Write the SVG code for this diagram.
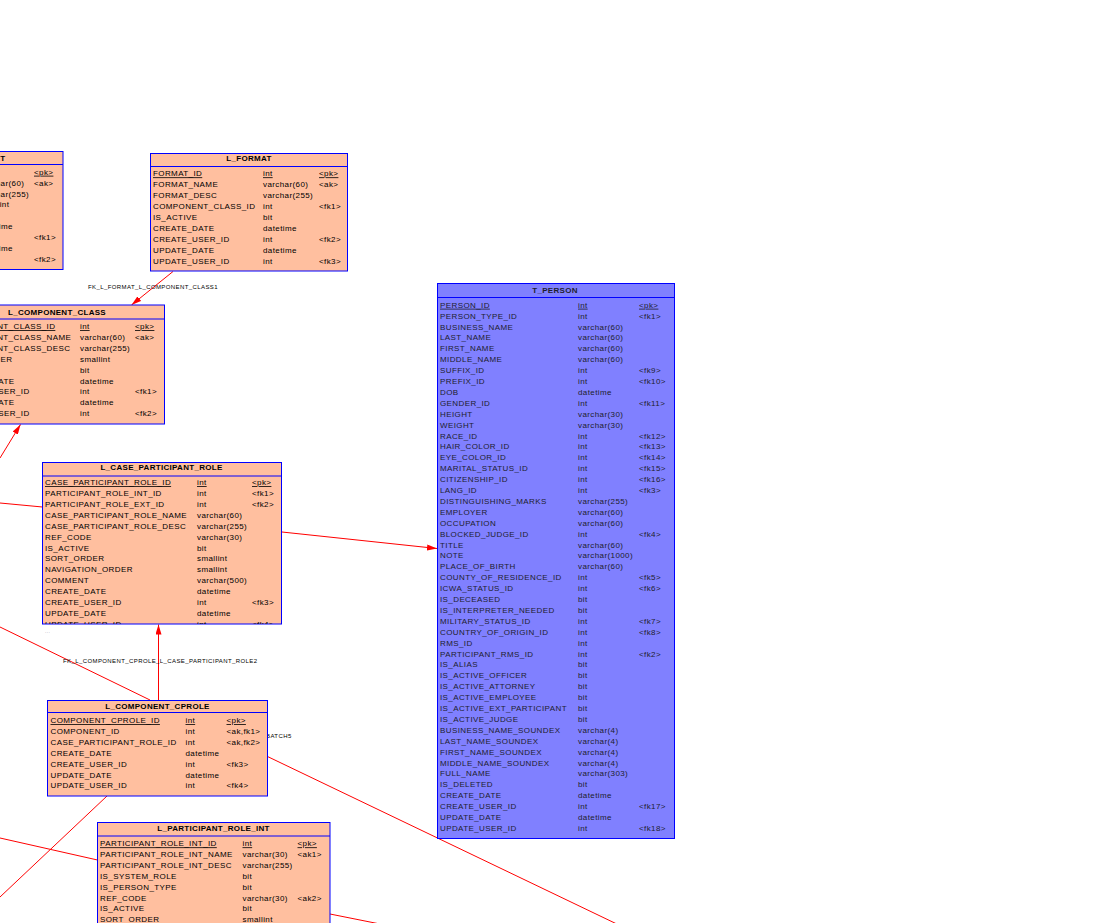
<svg xmlns="http://www.w3.org/2000/svg" width="1119" height="923" viewBox="0 0 1119 923">
<defs>
<style>
.tb{fill:#FFBF9F;stroke:#0000FF;stroke-width:1}
.tp{fill:#8080FF;stroke:#0000FF;stroke-width:1}
.sep{stroke:#0000FF;stroke-width:1}
text{font-family:"Liberation Sans",Arial,sans-serif;font-size:8px;letter-spacing:0.4px;fill:#000}
.h{font-weight:bold;text-anchor:middle;letter-spacing:0.3px}
.pk{text-decoration:underline}
.tpt{fill:#1e1e2e}
.lbl{font-size:6px;letter-spacing:0.4px}
.c{stroke:#FF0000;fill:none;stroke-width:1}
.dots{fill:#99a;font-size:5px}
</style>
<marker id="arr" viewBox="0 0 10 6" refX="10" refY="3" markerWidth="10" markerHeight="6" markerUnits="userSpaceOnUse" orient="auto"><path d="M0,0 L10,3 L0,6 z" fill="#FF0000"/></marker>
<clipPath id="clipCPR"><rect x="42.5" y="462.5" width="239" height="161.5"/></clipPath>
</defs>
<rect width="1119" height="923" fill="#FFFFFF"/>

<g id="connectors">
<line class="c" x1="173" y1="271.5" x2="131.5" y2="305" marker-end="url(#arr)"/>
<text class="lbl" x="88" y="289">FK_L_FORMAT_L_COMPONENT_CLASS1</text>
<line class="c" x1="0" y1="458" x2="20.5" y2="424.5" marker-end="url(#arr)"/>
<line class="c" x1="0" y1="503" x2="42.5" y2="507"/>
<line class="c" x1="282" y1="532" x2="437" y2="548.5" marker-end="url(#arr)"/>
<line class="c" x1="0" y1="627" x2="150" y2="700"/>
<line class="c" x1="158.5" y1="700.5" x2="158.5" y2="624.5" marker-end="url(#arr)"/>
<text class="lbl" x="63" y="663">FK_L_COMPONENT_CPROLE_L_CASE_PARTICIPANT_ROLE2</text>
<text class="lbl" x="266" y="738">BATCH5</text>
<line class="c" x1="267.5" y1="756.5" x2="621" y2="926"/>
<line class="c" x1="107" y1="796" x2="0" y2="897"/>
<line class="c" x1="0" y1="838" x2="97.5" y2="860"/>
<line class="c" x1="330" y1="914" x2="380" y2="924"/>
</g>

<g id="L_COMPONENT">
<rect class="tb" x="-103" y="151.5" width="166" height="118"/>
<text class="h" x="5.5" y="161" style="text-anchor:end">L_COMPONENT</text>
<line class="sep" x1="-103" y1="164.5" x2="63" y2="164.5"/>
<text class="pk" x="34" y="174.7">&lt;pk&gt;</text>
<text x="-21" y="185.6">varchar(60)</text><text x="34" y="185.6">&lt;ak&gt;</text>
<text x="-21" y="196.5">varchar(255)</text>
<text x="-21" y="207.4">smallint</text>
<text x="-21" y="229.2">datetime</text>
<text x="34" y="240.1">&lt;fk1&gt;</text>
<text x="-21" y="251">datetime</text>
<text x="34" y="261.9">&lt;fk2&gt;</text>
</g>

<g id="L_FORMAT">
<rect class="tb" x="150.5" y="153.5" width="197" height="117.5"/>
<text class="h" x="249" y="161.3">L_FORMAT</text>
<line class="sep" x1="150.5" y1="166.5" x2="347.5" y2="166.5"/>
<text class="pk" x="153" y="176.3">FORMAT_ID</text><text class="pk" x="263" y="176.3">int</text><text class="pk" x="319" y="176.3">&lt;pk&gt;</text>
<text x="153" y="187.2">FORMAT_NAME</text><text x="263" y="187.2">varchar(60)</text><text x="319" y="187.2">&lt;ak&gt;</text>
<text x="153" y="198.1">FORMAT_DESC</text><text x="263" y="198.1">varchar(255)</text>
<text x="153" y="209">COMPONENT_CLASS_ID</text><text x="263" y="209">int</text><text x="319" y="209">&lt;fk1&gt;</text>
<text x="153" y="219.9">IS_ACTIVE</text><text x="263" y="219.9">bit</text>
<text x="153" y="230.8">CREATE_DATE</text><text x="263" y="230.8">datetime</text>
<text x="153" y="241.7">CREATE_USER_ID</text><text x="263" y="241.7">int</text><text x="319" y="241.7">&lt;fk2&gt;</text>
<text x="153" y="252.6">UPDATE_DATE</text><text x="263" y="252.6">datetime</text>
<text x="153" y="263.5">UPDATE_USER_ID</text><text x="263" y="263.5">int</text><text x="319" y="263.5">&lt;fk3&gt;</text>
</g>

<g id="L_COMPONENT_CLASS">
<rect class="tb" x="-50" y="305" width="214.5" height="119"/>
<text class="h" x="57" y="315.3">L_COMPONENT_CLASS</text>
<line class="sep" x1="-50" y1="319" x2="164.5" y2="319"/>
<text class="pk" x="-47" y="329">COMPONENT_CLASS_ID</text><text class="pk" x="80" y="329">int</text><text class="pk" x="135" y="329">&lt;pk&gt;</text>
<text x="-47" y="339.9">COMPONENT_CLASS_NAME</text><text x="80" y="339.9">varchar(60)</text><text x="135" y="339.9">&lt;ak&gt;</text>
<text x="-47" y="350.8">COMPONENT_CLASS_DESC</text><text x="80" y="350.8">varchar(255)</text>
<text x="-47" y="361.7">SORT_ORDER</text><text x="80" y="361.7">smallint</text>
<text x="-47" y="372.6">IS_ACTIVE</text><text x="80" y="372.6">bit</text>
<text x="-47" y="383.5">CREATE_DATE</text><text x="80" y="383.5">datetime</text>
<text x="-47" y="394.4">CREATE_USER_ID</text><text x="80" y="394.4">int</text><text x="135" y="394.4">&lt;fk1&gt;</text>
<text x="-47" y="405.3">UPDATE_DATE</text><text x="80" y="405.3">datetime</text>
<text x="-47" y="416.2">UPDATE_USER_ID</text><text x="80" y="416.2">int</text><text x="135" y="416.2">&lt;fk2&gt;</text>
</g>

<g id="L_CASE_PARTICIPANT_ROLE">
<rect class="tb" x="42.5" y="462.5" width="239" height="161.5"/>
<text class="h" x="161.5" y="470">L_CASE_PARTICIPANT_ROLE</text>
<line class="sep" x1="42.5" y1="476" x2="281.5" y2="476"/>
<g clip-path="url(#clipCPR)">
<text class="pk" x="45" y="485">CASE_PARTICIPANT_ROLE_ID</text><text class="pk" x="197" y="485">int</text><text class="pk" x="252" y="485">&lt;pk&gt;</text>
<text x="45" y="495.9">PARTICIPANT_ROLE_INT_ID</text><text x="197" y="495.9">int</text><text x="252" y="495.9">&lt;fk1&gt;</text>
<text x="45" y="506.8">PARTICIPANT_ROLE_EXT_ID</text><text x="197" y="506.8">int</text><text x="252" y="506.8">&lt;fk2&gt;</text>
<text x="45" y="517.8">CASE_PARTICIPANT_ROLE_NAME</text><text x="197" y="517.8">varchar(60)</text>
<text x="45" y="528.7">CASE_PARTICIPANT_ROLE_DESC</text><text x="197" y="528.7">varchar(255)</text>
<text x="45" y="539.6">REF_CODE</text><text x="197" y="539.6">varchar(30)</text>
<text x="45" y="550.5">IS_ACTIVE</text><text x="197" y="550.5">bit</text>
<text x="45" y="561.4">SORT_ORDER</text><text x="197" y="561.4">smallint</text>
<text x="45" y="572.4">NAVIGATION_ORDER</text><text x="197" y="572.4">smallint</text>
<text x="45" y="583.3">COMMENT</text><text x="197" y="583.3">varchar(500)</text>
<text x="45" y="594.2">CREATE_DATE</text><text x="197" y="594.2">datetime</text>
<text x="45" y="605.1">CREATE_USER_ID</text><text x="197" y="605.1">int</text><text x="252" y="605.1">&lt;fk3&gt;</text>
<text x="45" y="616">UPDATE_DATE</text><text x="197" y="616">datetime</text>
<text x="45" y="627">UPDATE_USER_ID</text><text x="197" y="627">int</text><text x="252" y="627">&lt;fk4&gt;</text>
</g>
<text class="dots" x="45" y="632.5">...</text>
</g>

<g id="L_COMPONENT_CPROLE">
<rect class="tb" x="47.5" y="700.5" width="220" height="95.5"/>
<text class="h" x="157.5" y="709">L_COMPONENT_CPROLE</text>
<line class="sep" x1="47.5" y1="712.5" x2="267.5" y2="712.5"/>
<text class="pk" x="50.5" y="723">COMPONENT_CPROLE_ID</text><text class="pk" x="185.5" y="723">int</text><text class="pk" x="226.5" y="723">&lt;pk&gt;</text>
<text x="50.5" y="733.9">COMPONENT_ID</text><text x="185.5" y="733.9">int</text><text x="226.5" y="733.9">&lt;ak,fk1&gt;</text>
<text x="50.5" y="744.8">CASE_PARTICIPANT_ROLE_ID</text><text x="185.5" y="744.8">int</text><text x="226.5" y="744.8">&lt;ak,fk2&gt;</text>
<text x="50.5" y="755.7">CREATE_DATE</text><text x="185.5" y="755.7">datetime</text>
<text x="50.5" y="766.6">CREATE_USER_ID</text><text x="185.5" y="766.6">int</text><text x="226.5" y="766.6">&lt;fk3&gt;</text>
<text x="50.5" y="777.5">UPDATE_DATE</text><text x="185.5" y="777.5">datetime</text>
<text x="50.5" y="788.4">UPDATE_USER_ID</text><text x="185.5" y="788.4">int</text><text x="226.5" y="788.4">&lt;fk4&gt;</text>
</g>

<g id="L_PARTICIPANT_ROLE_INT">
<rect class="tb" x="97.5" y="822.5" width="232.5" height="120"/>
<text class="h" x="213.5" y="831.3">L_PARTICIPANT_ROLE_INT</text>
<line class="sep" x1="97.5" y1="836" x2="330" y2="836"/>
<text class="pk" x="100" y="846.3">PARTICIPANT_ROLE_INT_ID</text><text class="pk" x="242.5" y="846.3">int</text><text class="pk" x="297.5" y="846.3">&lt;pk&gt;</text>
<text x="100" y="857.1">PARTICIPANT_ROLE_INT_NAME</text><text x="242.5" y="857.1">varchar(30)</text><text x="297.5" y="857.1">&lt;ak1&gt;</text>
<text x="100" y="868">PARTICIPANT_ROLE_INT_DESC</text><text x="242.5" y="868">varchar(255)</text>
<text x="100" y="878.8">IS_SYSTEM_ROLE</text><text x="242.5" y="878.8">bit</text>
<text x="100" y="889.7">IS_PERSON_TYPE</text><text x="242.5" y="889.7">bit</text>
<text x="100" y="900.5">REF_CODE</text><text x="242.5" y="900.5">varchar(30)</text><text x="297.5" y="900.5">&lt;ak2&gt;</text>
<text x="100" y="911.4">IS_ACTIVE</text><text x="242.5" y="911.4">bit</text>
<text x="100" y="922.2">SORT_ORDER</text><text x="242.5" y="922.2">smallint</text>
</g>

<g id="T_PERSON">
<rect class="tp" x="437.5" y="283.5" width="237" height="555"/>
<text class="h tpt" x="555" y="293">T_PERSON</text>
<line class="sep" x1="437.5" y1="297.5" x2="674.5" y2="297.5"/>
<g class="tpt">
<text class="pk tpt" x="440" y="307.7">PERSON_ID</text><text class="pk tpt" x="578" y="307.7">int</text><text class="pk tpt" x="639" y="307.7">&lt;pk&gt;</text>
<text class="tpt" x="440" y="318.6">PERSON_TYPE_ID</text><text class="tpt" x="578" y="318.6">int</text><text class="tpt" x="639" y="318.6">&lt;fk1&gt;</text>
<text class="tpt" x="440" y="329.5">BUSINESS_NAME</text><text class="tpt" x="578" y="329.5">varchar(60)</text>
<text class="tpt" x="440" y="340.4">LAST_NAME</text><text class="tpt" x="578" y="340.4">varchar(60)</text>
<text class="tpt" x="440" y="351.3">FIRST_NAME</text><text class="tpt" x="578" y="351.3">varchar(60)</text>
<text class="tpt" x="440" y="362.2">MIDDLE_NAME</text><text class="tpt" x="578" y="362.2">varchar(60)</text>
<text class="tpt" x="440" y="373.1">SUFFIX_ID</text><text class="tpt" x="578" y="373.1">int</text><text class="tpt" x="639" y="373.1">&lt;fk9&gt;</text>
<text class="tpt" x="440" y="384">PREFIX_ID</text><text class="tpt" x="578" y="384">int</text><text class="tpt" x="639" y="384">&lt;fk10&gt;</text>
<text class="tpt" x="440" y="394.9">DOB</text><text class="tpt" x="578" y="394.9">datetime</text>
<text class="tpt" x="440" y="405.8">GENDER_ID</text><text class="tpt" x="578" y="405.8">int</text><text class="tpt" x="639" y="405.8">&lt;fk11&gt;</text>
<text class="tpt" x="440" y="416.7">HEIGHT</text><text class="tpt" x="578" y="416.7">varchar(30)</text>
<text class="tpt" x="440" y="427.6">WEIGHT</text><text class="tpt" x="578" y="427.6">varchar(30)</text>
<text class="tpt" x="440" y="438.5">RACE_ID</text><text class="tpt" x="578" y="438.5">int</text><text class="tpt" x="639" y="438.5">&lt;fk12&gt;</text>
<text class="tpt" x="440" y="449.4">HAIR_COLOR_ID</text><text class="tpt" x="578" y="449.4">int</text><text class="tpt" x="639" y="449.4">&lt;fk13&gt;</text>
<text class="tpt" x="440" y="460.3">EYE_COLOR_ID</text><text class="tpt" x="578" y="460.3">int</text><text class="tpt" x="639" y="460.3">&lt;fk14&gt;</text>
<text class="tpt" x="440" y="471.2">MARITAL_STATUS_ID</text><text class="tpt" x="578" y="471.2">int</text><text class="tpt" x="639" y="471.2">&lt;fk15&gt;</text>
<text class="tpt" x="440" y="482.1">CITIZENSHIP_ID</text><text class="tpt" x="578" y="482.1">int</text><text class="tpt" x="639" y="482.1">&lt;fk16&gt;</text>
<text class="tpt" x="440" y="493">LANG_ID</text><text class="tpt" x="578" y="493">int</text><text class="tpt" x="639" y="493">&lt;fk3&gt;</text>
<text class="tpt" x="440" y="503.9">DISTINGUISHING_MARKS</text><text class="tpt" x="578" y="503.9">varchar(255)</text>
<text class="tpt" x="440" y="514.8">EMPLOYER</text><text class="tpt" x="578" y="514.8">varchar(60)</text>
<text class="tpt" x="440" y="525.7">OCCUPATION</text><text class="tpt" x="578" y="525.7">varchar(60)</text>
<text class="tpt" x="440" y="536.6">BLOCKED_JUDGE_ID</text><text class="tpt" x="578" y="536.6">int</text><text class="tpt" x="639" y="536.6">&lt;fk4&gt;</text>
<text class="tpt" x="440" y="547.5">TITLE</text><text class="tpt" x="578" y="547.5">varchar(60)</text>
<text class="tpt" x="440" y="558.4">NOTE</text><text class="tpt" x="578" y="558.4">varchar(1000)</text>
<text class="tpt" x="440" y="569.3">PLACE_OF_BIRTH</text><text class="tpt" x="578" y="569.3">varchar(60)</text>
<text class="tpt" x="440" y="580.2">COUNTY_OF_RESIDENCE_ID</text><text class="tpt" x="578" y="580.2">int</text><text class="tpt" x="639" y="580.2">&lt;fk5&gt;</text>
<text class="tpt" x="440" y="591.1">ICWA_STATUS_ID</text><text class="tpt" x="578" y="591.1">int</text><text class="tpt" x="639" y="591.1">&lt;fk6&gt;</text>
<text class="tpt" x="440" y="602">IS_DECEASED</text><text class="tpt" x="578" y="602">bit</text>
<text class="tpt" x="440" y="612.9">IS_INTERPRETER_NEEDED</text><text class="tpt" x="578" y="612.9">bit</text>
<text class="tpt" x="440" y="623.8">MILITARY_STATUS_ID</text><text class="tpt" x="578" y="623.8">int</text><text class="tpt" x="639" y="623.8">&lt;fk7&gt;</text>
<text class="tpt" x="440" y="634.7">COUNTRY_OF_ORIGIN_ID</text><text class="tpt" x="578" y="634.7">int</text><text class="tpt" x="639" y="634.7">&lt;fk8&gt;</text>
<text class="tpt" x="440" y="645.6">RMS_ID</text><text class="tpt" x="578" y="645.6">int</text>
<text class="tpt" x="440" y="656.5">PARTICIPANT_RMS_ID</text><text class="tpt" x="578" y="656.5">int</text><text class="tpt" x="639" y="656.5">&lt;fk2&gt;</text>
<text class="tpt" x="440" y="667.4">IS_ALIAS</text><text class="tpt" x="578" y="667.4">bit</text>
<text class="tpt" x="440" y="678.3">IS_ACTIVE_OFFICER</text><text class="tpt" x="578" y="678.3">bit</text>
<text class="tpt" x="440" y="689.2">IS_ACTIVE_ATTORNEY</text><text class="tpt" x="578" y="689.2">bit</text>
<text class="tpt" x="440" y="700.1">IS_ACTIVE_EMPLOYEE</text><text class="tpt" x="578" y="700.1">bit</text>
<text class="tpt" x="440" y="711">IS_ACTIVE_EXT_PARTICIPANT</text><text class="tpt" x="578" y="711">bit</text>
<text class="tpt" x="440" y="721.9">IS_ACTIVE_JUDGE</text><text class="tpt" x="578" y="721.9">bit</text>
<text class="tpt" x="440" y="732.8">BUSINESS_NAME_SOUNDEX</text><text class="tpt" x="578" y="732.8">varchar(4)</text>
<text class="tpt" x="440" y="743.7">LAST_NAME_SOUNDEX</text><text class="tpt" x="578" y="743.7">varchar(4)</text>
<text class="tpt" x="440" y="754.6">FIRST_NAME_SOUNDEX</text><text class="tpt" x="578" y="754.6">varchar(4)</text>
<text class="tpt" x="440" y="765.5">MIDDLE_NAME_SOUNDEX</text><text class="tpt" x="578" y="765.5">varchar(4)</text>
<text class="tpt" x="440" y="776.4">FULL_NAME</text><text class="tpt" x="578" y="776.4">varchar(303)</text>
<text class="tpt" x="440" y="787.3">IS_DELETED</text><text class="tpt" x="578" y="787.3">bit</text>
<text class="tpt" x="440" y="798.2">CREATE_DATE</text><text class="tpt" x="578" y="798.2">datetime</text>
<text class="tpt" x="440" y="809.1">CREATE_USER_ID</text><text class="tpt" x="578" y="809.1">int</text><text class="tpt" x="639" y="809.1">&lt;fk17&gt;</text>
<text class="tpt" x="440" y="820">UPDATE_DATE</text><text class="tpt" x="578" y="820">datetime</text>
<text class="tpt" x="440" y="830.9">UPDATE_USER_ID</text><text class="tpt" x="578" y="830.9">int</text><text class="tpt" x="639" y="830.9">&lt;fk18&gt;</text>
</g>
</g>
</svg>
